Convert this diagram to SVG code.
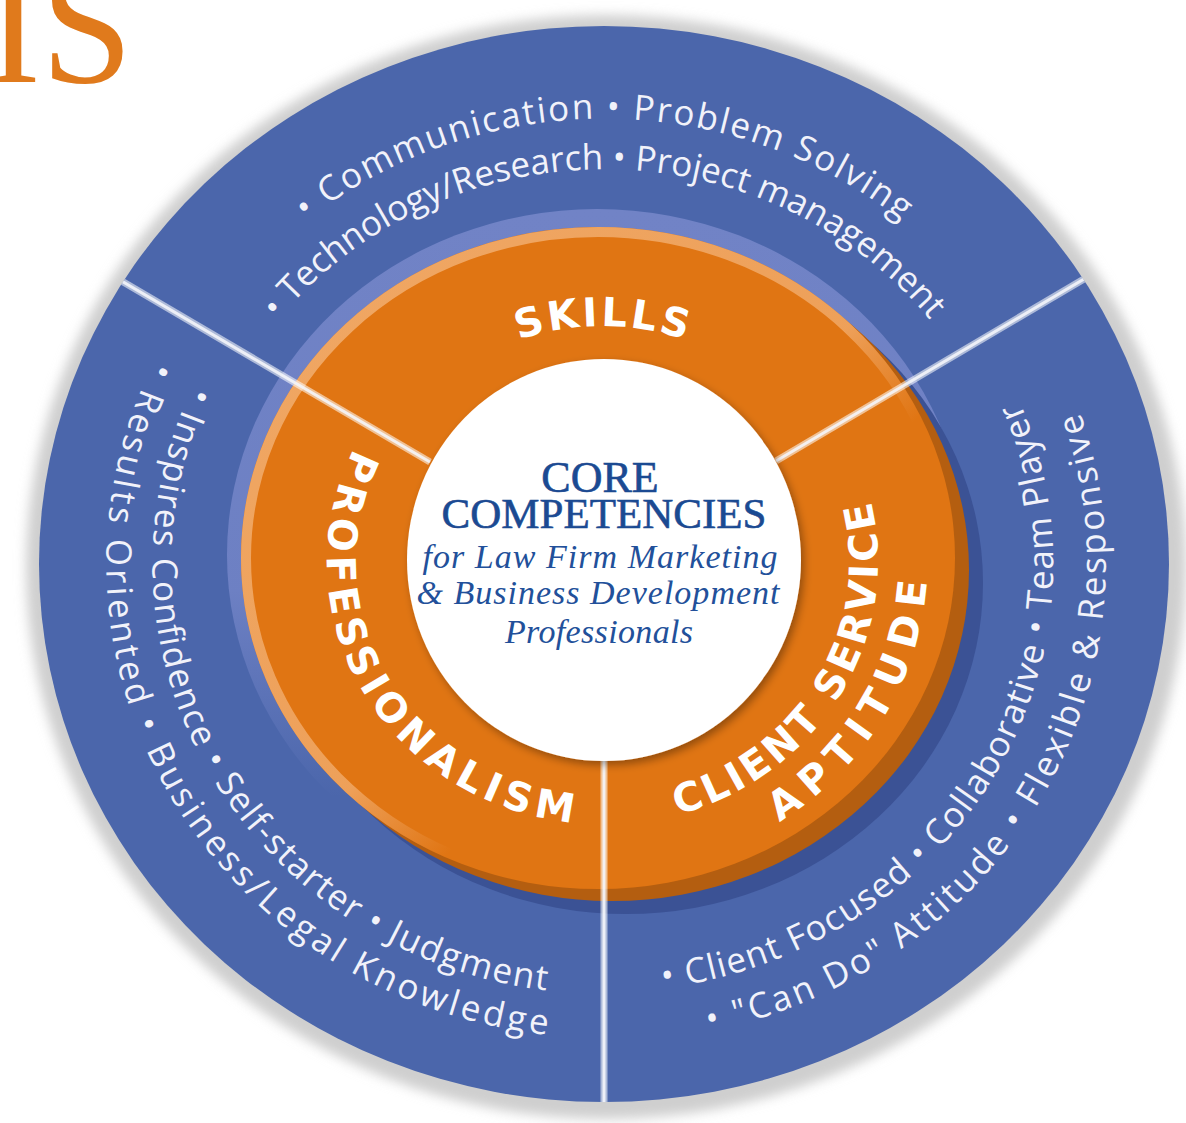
<svg xmlns="http://www.w3.org/2000/svg" width="1186" height="1123" viewBox="0 0 1186 1123">
<defs>
<style>
.outer{font-family:"Open Sans","Liberation Sans",sans-serif;font-size:35px;fill:#f1f2fa}
.ring{font-family:"DejaVu Sans","Liberation Sans",Arial,sans-serif;font-weight:bold;font-size:40px;fill:#ffffff}
.core{font-family:"Liberation Serif","Times New Roman",serif;fill:#1b4a92;text-anchor:middle}
.caps{stroke:#1b4a92;stroke-width:0.6px}
.sub{font-style:italic;font-size:34px;fill:#22509a}
.div{fill:none;stroke-linecap:butt}
</style>
<filter id="blur6" x="-10%" y="-10%" width="120%" height="120%"><feGaussianBlur stdDeviation="6"/></filter>
<filter id="wshadow" x="-20%" y="-20%" width="140%" height="140%"><feDropShadow dx="3" dy="4" stdDeviation="4" flood-color="#000" flood-opacity="0.35"/></filter>
<linearGradient id="lav" x1="0" y1="0" x2="0" y2="1">
<stop offset="0" stop-color="#7183c6" stop-opacity="1"/>
<stop offset="0.55" stop-color="#7183c6" stop-opacity="0.9"/>
<stop offset="0.85" stop-color="#7183c6" stop-opacity="0"/>
</linearGradient>
<linearGradient id="hil" x1="0" y1="0" x2="1" y2="1">
<stop offset="0" stop-color="#f0a866" stop-opacity="1"/>
<stop offset="0.5" stop-color="#f0a866" stop-opacity="0.85"/>
<stop offset="0.62" stop-color="#f0a866" stop-opacity="0"/>
</linearGradient>
<clipPath id="diskclip"><ellipse cx="604" cy="564" rx="565" ry="538"/></clipPath>
<path id="p-top1" d="M143.8,486.7 A467.25,445 0 0 1 1064.2,486.7"/>
<path id="p-top2" d="M195.6,495.4 A414.75,395 0 0 1 1012.4,495.4"/>
<path id="p-left1" d="M193.1,385.7 A451.5,430 0 0 0 697.9,984.6"/>
<path id="p-left2" d="M154.4,360.7 A497.7,474 0 0 0 707.5,1027.6"/>
<path id="p-right1" d="M662.6,988.3 A449.4,428 0 0 0 948.2,288.9"/>
<path id="p-right2" d="M708.3,1031.5 A501.9,478 0 0 0 1015.1,289.8"/>
<path id="p-skills" d="M358,521 A247.8,236 0 0 1 846,521"/>
<path id="p-prof" d="M354.1,448.4 A275.1,262 0 0 0 626.0,823.0"/>
<path id="p-client" d="M677.7,814.9 A276.15,263 0 0 0 845.8,438.5"/>
<path id="p-apt" d="M779.3,822.0 A325.5,310 0 0 0 922.6,508.2"/>
</defs>

<rect width="1186" height="1123" fill="#ffffff"/>

<text id="title-fragment" x="-14" y="82" font-family="Liberation Serif, Times New Roman, serif" font-size="165" fill="#e07a1c">IS</text>

<g id="disk">
<ellipse cx="606" cy="567" rx="580" ry="552" fill="#cfcfcf" filter="url(#blur6)"/>
<ellipse cx="604" cy="564" rx="565" ry="538" fill="#4b66ab"/>
</g>

<g id="ring">
<ellipse cx="597" cy="555" rx="370" ry="346" fill="url(#lav)"/>
<ellipse cx="626" cy="583" rx="357" ry="331" fill="#3b5295"/>
<ellipse cx="612" cy="570" rx="357" ry="331" fill="#b45e10"/>
<ellipse cx="598" cy="558" rx="357" ry="331" fill="#e07513"/>
<ellipse cx="598" cy="558" rx="352" ry="326" fill="none" stroke="url(#hil)" stroke-width="10"/>
</g>

<g id="connectors" clip-path="url(#diskclip)">
<line class="div" x1="430" y1="462" x2="50" y2="239" stroke="#ffffff" stroke-opacity="0.55" stroke-width="7"/>
<line class="div" x1="430" y1="462" x2="50" y2="239" stroke="#f4f5fa" stroke-opacity="0.9" stroke-width="3"/>
<line class="div" x1="776" y1="461" x2="1150" y2="240" stroke="#ffffff" stroke-opacity="0.55" stroke-width="7"/>
<line class="div" x1="776" y1="461" x2="1150" y2="240" stroke="#f4f5fa" stroke-opacity="0.9" stroke-width="3"/>
<line class="div" x1="604" y1="740" x2="604" y2="1120" stroke="#ffffff" stroke-opacity="0.55" stroke-width="7"/>
<line class="div" x1="604" y1="740" x2="604" y2="1120" stroke="#f4f5fa" stroke-opacity="0.9" stroke-width="3"/>
</g>

<g id="core">
<ellipse cx="604" cy="560" rx="197" ry="201" fill="#ffffff" filter="url(#wshadow)"/>
<text class="core caps" x="600" y="492" font-size="44">CORE</text>
<text class="core caps" x="604" y="528" font-size="43">COMPETENCIES</text>
<text class="core sub" x="600" y="568" textLength="355" lengthAdjust="spacing">for Law Firm Marketing</text>
<text class="core sub" x="598" y="604" textLength="363" lengthAdjust="spacing">&amp; Business Development</text>
<text class="core sub" x="599" y="643" textLength="188" lengthAdjust="spacing">Professionals</text>
</g>

<g id="skills">
<text class="ring" text-anchor="middle"><textPath href="#p-skills" startOffset="50%" textLength="170" lengthAdjust="spacing">SKILLS</textPath></text>
<text class="outer" text-anchor="middle"><textPath href="#p-top1" startOffset="50%" textLength="641" lengthAdjust="spacing">• Communication • Problem Solving</textPath></text>
<text class="outer" text-anchor="middle"><textPath href="#p-top2" startOffset="50%" textLength="742" lengthAdjust="spacing">• Technology/Research • Project management</textPath></text>
</g>

<g id="professionalism">
<text class="ring"><textPath href="#p-prof" textLength="510" lengthAdjust="spacing">PROFESSIONALISM</textPath></text>
<text class="outer"><textPath href="#p-left1" textLength="819" lengthAdjust="spacing">• Inspires Confidence • Self-starter • Judgment</textPath></text>
<text class="outer"><textPath href="#p-left2" textLength="917" lengthAdjust="spacing">• Results Oriented • Business/Legal Knowledge</textPath></text>
</g>

<g id="client-service">
<text class="ring"><textPath href="#p-client" textLength="408" lengthAdjust="spacing">CLIENT SERVICE</textPath></text>
<text class="ring"><textPath href="#p-apt" textLength="293" lengthAdjust="spacing">APTITUDE</textPath></text>
<text class="outer"><textPath href="#p-right1" textLength="797" lengthAdjust="spacing">• Client Focused • Collaborative • Team Player</textPath></text>
<text class="outer"><textPath href="#p-right2" textLength="819" lengthAdjust="spacing">• "Can Do" Attitude • Flexible &amp; Responsive</textPath></text>
</g>
</svg>
